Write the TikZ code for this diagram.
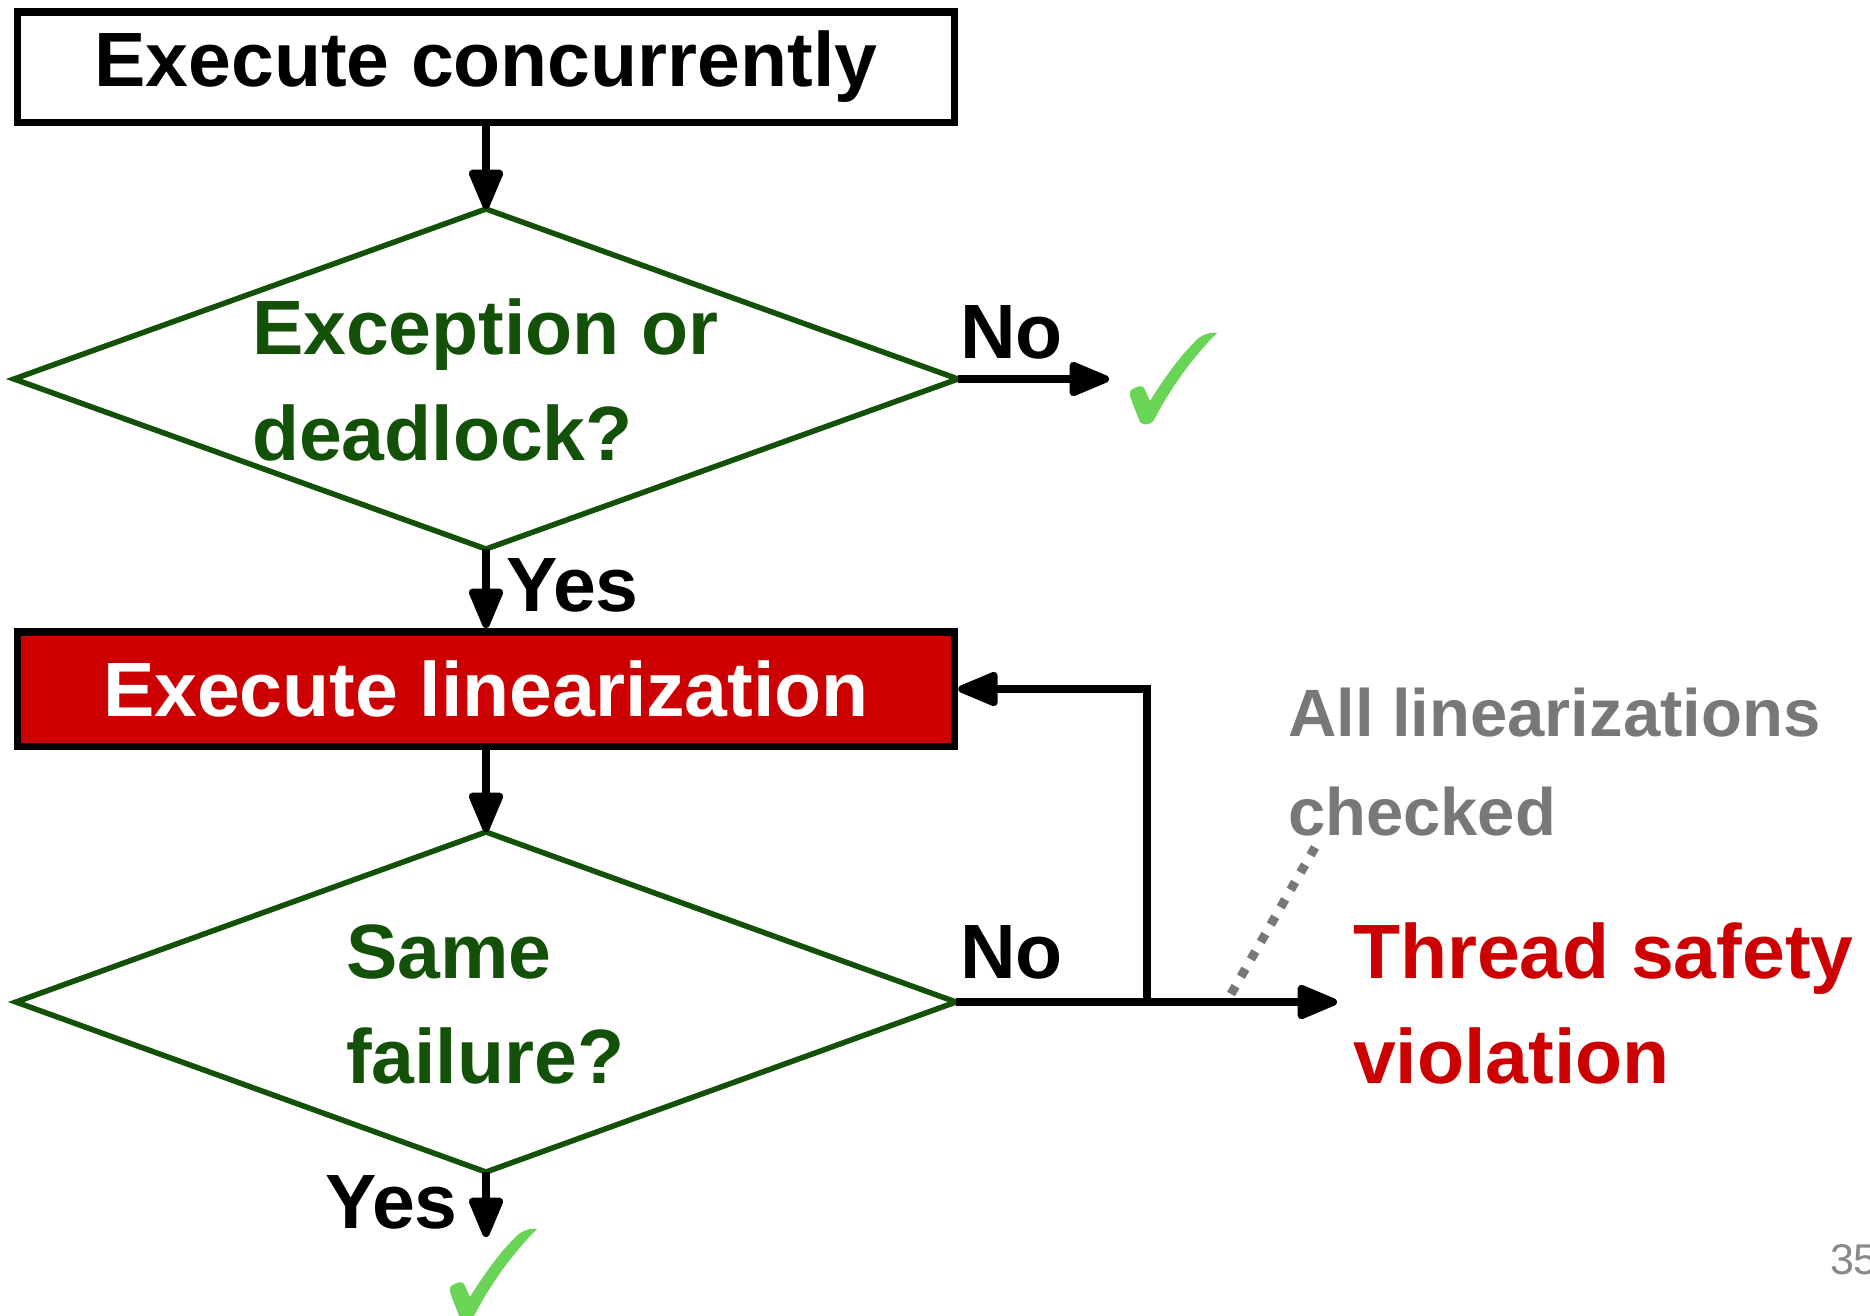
\documentclass[tikz,border=0pt]{standalone}
\usepackage{fontspec}
\setmainfont{Liberation Sans}
\usetikzlibrary{arrows.meta,shapes.geometric}

\definecolor{dkgreen}{RGB}{19,80,8}
\definecolor{okgreen}{RGB}{106,212,86}
\definecolor{alarm}{RGB}{204,0,0}
\definecolor{note}{RGB}{120,120,120}
\definecolor{pagenum}{RGB}{136,136,136}

% check-mark outline in local coordinates (origin = top-left of its box)
\newcommand{\checkpath}{%
  (3,57) .. controls (9,53) and (14,52) .. (16,55) -- (22,68)
  .. controls (40,39) and (57,17) .. (72,4)
  .. controls (79,0) and (85,-1) .. (89,0)
  .. controls (67,22) and (44,52) .. (26,87)
  .. controls (23,92) and (15,93) .. (12,89)
  .. controls (8,79) and (4,69) .. (2,63)
  .. controls (1,60) and (2,58) .. cycle}

\tikzset{
  bigfont/.style={font=\fontsize{77}{90}\selectfont\bfseries},
  lbl/.style={bigfont, inner sep=0pt, outer sep=0pt, anchor=base west},
  boxnode/.style={bigfont, draw=black, line width=7.5pt, inner sep=0pt,
    minimum width=937pt},
  decision/.style={diamond, draw=dkgreen, line width=5.5pt, inner sep=0pt,
    outer sep=0pt},
  flow/.style={line width=7.5pt, -{Triangle[length=46pt,width=36pt,round]}},
  plain/.style={line width=7.5pt},
  hint/.style={draw=note, line width=9pt, dash pattern=on 9pt off 11pt},
}

\begin{document}
\begin{tikzpicture}[x=1pt,y=-1pt]
  \clip (0,0) rectangle (1870,1315);

  % process boxes
  \node[boxnode, minimum height=110.5pt] (run) at (486,67) {Execute concurrently};
  \node[boxnode, fill=alarm, text=white, minimum height=114.5pt] (lin) at (486,689)
    {Execute linearization};

  % decisions
  \node[decision, minimum width=944pt, minimum height=340pt] (q1) at (486,379) {};
  \node[decision, minimum width=940pt, minimum height=340pt] (q2) at (486,1002) {};

  \node[lbl, text=dkgreen] (q1a) at (252,354) {Exception or};
  \node[lbl, text=dkgreen] (q1b) at (252,460) {deadlock?};
  \node[lbl, text=dkgreen] (q2a) at (346,978) {Same};
  \node[lbl, text=dkgreen] (q2b) at (346,1083) {failure?};

  % branch labels
  \node[lbl] (no1) at (960,358) {No};
  \node[lbl] (yes1) at (506,611) {Yes};
  \node[lbl] (no2) at (960,978) {No};
  \node[lbl] (yes2) at (325,1228) {Yes};

  % outcome texts
  \node[lbl, text=alarm] (tsv1) at (1353,978) {Thread safety};
  \node[lbl, text=alarm] (tsv2) at (1353,1083) {violation};
  \node[lbl, text=note, font=\fontsize{67}{80}\selectfont\bfseries] (all1) at (1288,736)
    {All linearizations};
  \node[lbl, text=note, font=\fontsize{67}{80}\selectfont\bfseries] (all2) at (1288,835)
    {checked};
  \node[lbl, text=pagenum, font=\fontsize{43}{50}\selectfont] (pg) at (1830,1274) {35};

  % connector end points
  \coordinate (ok1) at (1109,379);
  \coordinate (ok2) at (486,1237);
  \coordinate (j) at (1147,1002);
  \coordinate (out) at (1337,1002);
  \coordinate (d1) at (1231,994);
  \coordinate (d2) at (1318,842);

  % connectors
  \draw[flow] (run.south) -- (q1.north);
  \draw[flow] (q1.south) -- (lin.north);
  \draw[flow] (lin.south) -- (q2.north);
  \draw[flow] (q2.south) -- (ok2);
  \draw[flow] (q1.east) -- (ok1);
  \draw[plain] (q2.east) -- (j);
  \draw[flow] (j) -- (out);
  \draw[flow] (j) |- (lin.east);
  \draw[hint] (d1) -- (d2);

  % check marks
  \fill[okgreen, shift={(1128,333)}] \checkpath;
  \fill[okgreen, shift={(448,1229)}] \checkpath;
\end{tikzpicture}
\end{document}
